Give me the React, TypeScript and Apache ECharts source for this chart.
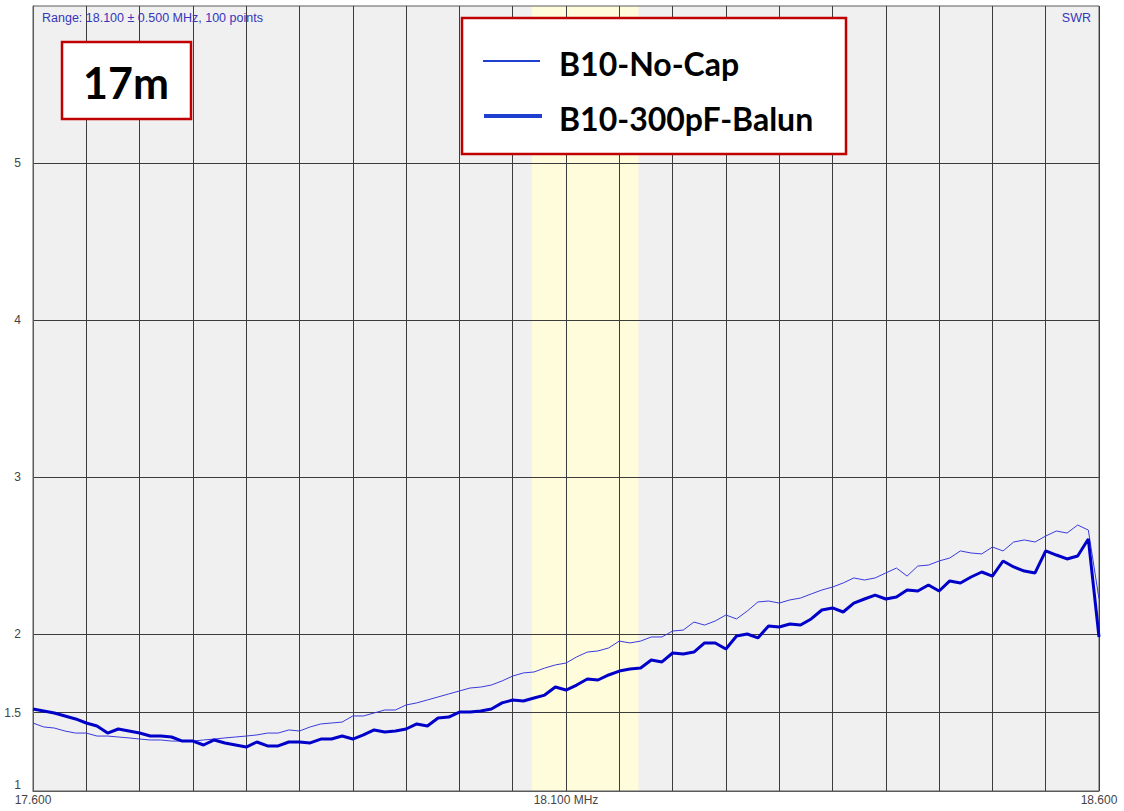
import React, { useEffect, useRef } from 'react';
import * as echarts from 'echarts';

const FREQ_START = 17.6;
const FREQ_STEP = 0.01;

const noCap = [
  1.433, 1.408, 1.401, 1.382, 1.369, 1.369, 1.350, 1.350, 1.344, 1.338,
  1.331, 1.325, 1.325, 1.318, 1.318, 1.318, 1.325, 1.331, 1.338, 1.344,
  1.350, 1.357, 1.369, 1.369, 1.389, 1.382, 1.408, 1.427, 1.433, 1.439,
  1.478, 1.478, 1.497, 1.516, 1.516, 1.548, 1.561, 1.580, 1.599, 1.618,
  1.637, 1.656, 1.662, 1.675, 1.701, 1.732, 1.752, 1.758, 1.783, 1.803,
  1.815, 1.854, 1.885, 1.892, 1.911, 1.955, 1.943, 1.955, 1.981, 1.981,
  2.019, 2.025, 2.076, 2.057, 2.083, 2.121, 2.096, 2.146, 2.204, 2.210,
  2.197, 2.217, 2.229, 2.255, 2.280, 2.299, 2.325, 2.357, 2.344, 2.357,
  2.389, 2.420, 2.369, 2.433, 2.439, 2.465, 2.484, 2.529, 2.516, 2.510,
  2.554, 2.529, 2.586, 2.599, 2.586, 2.624, 2.656, 2.643, 2.694, 2.662,
  2.223,
];

const balun = [
  1.522, 1.510, 1.497, 1.478, 1.459, 1.433, 1.414, 1.369, 1.395, 1.382,
  1.369, 1.350, 1.350, 1.344, 1.318, 1.318, 1.293, 1.325, 1.306, 1.293,
  1.280, 1.312, 1.287, 1.287, 1.312, 1.312, 1.306, 1.331, 1.331, 1.350,
  1.331, 1.357, 1.389, 1.376, 1.382, 1.395, 1.427, 1.414, 1.465, 1.471,
  1.503, 1.503, 1.510, 1.522, 1.561, 1.580, 1.573, 1.592, 1.611, 1.662,
  1.643, 1.675, 1.713, 1.707, 1.739, 1.764, 1.777, 1.783, 1.834, 1.822,
  1.879, 1.873, 1.885, 1.943, 1.943, 1.904, 1.987, 2.000, 1.975, 2.051,
  2.045, 2.064, 2.057, 2.096, 2.153, 2.166, 2.140, 2.197, 2.223, 2.248,
  2.223, 2.236, 2.280, 2.274, 2.312, 2.274, 2.338, 2.325, 2.363, 2.395,
  2.369, 2.465, 2.427, 2.401, 2.389, 2.529, 2.503, 2.478, 2.497, 2.605,
  1.981,
];

const seriesNames = ['B10-No-Cap', 'B10-300pF-Balun'];
const yLabelValues = [1, 1.5, 2, 3, 4, 5];
const yGridValues = [1.5, 2, 3, 4, 5];
const xLabelMap: [number, string][] = [
  [17.6, '17.600'],
  [18.1, '18.100 MHz'],
  [18.6, '18.600'],
];
const bandRange = [18.068, 18.168];
const rangeText = 'Range: 18.100 \u00b1 0.500 MHz, 100 points';
const swrText = 'SWR';
const bandTitle = '17m';

export default function App() {
  const ref = useRef<HTMLDivElement>(null);

  useEffect(() => {
    if (!ref.current) return;
    const chart = echarts.init(ref.current, null, { renderer: 'svg' });
    const freqs = noCap.map((_, i) => +(FREQ_START + i * FREQ_STEP).toFixed(2));
    const labelFont = '"Liberation Sans", Arial, sans-serif';
    const gridColor = '#3c3c3c';
    const legendFont = 'bold 32px Lato, "Open Sans", sans-serif';

    const option: any = {
      animation: false,
      grid: {
        left: 33,
        right: 25,
        top: 6,
        bottom: 20,
        show: true,
        borderColor: '#5a5a5a',
        borderWidth: 1,
        backgroundColor: 'transparent',
      },
      xAxis: {
        type: 'value',
        min: 17.6,
        max: 18.6,
        interval: 0.05,
        z: 1,
        axisLine: { show: true, lineStyle: { color: '#5a5a5a', width: 1 } },
        axisTick: { show: false },
        splitLine: { show: true, lineStyle: { color: gridColor, width: 1 } },
        axisLabel: {
          color: '#444',
          fontFamily: labelFont,
          fontSize: 12,
          margin: 3,
          showMinLabel: true,
          showMaxLabel: true,
          formatter: (v: number) => {
            for (const [val, txt] of xLabelMap) {
              if (Math.abs(v - val) < 1e-6) return txt;
            }
            return '';
          },
        },
      },
      yAxis: {
        type: 'value',
        min: 1,
        max: 6,
        interval: 0.5,
        z: 1,
        axisLine: { show: true, lineStyle: { color: '#5a5a5a', width: 1 } },
        axisTick: { show: false },
        splitLine: { show: false },
        axisLabel: {
          color: '#444',
          fontFamily: labelFont,
          fontSize: 12,
          margin: 12,
          verticalAlignMinLabel: 'bottom',
          formatter: (v: number) => {
            for (const val of yLabelValues) {
              if (Math.abs(v - val) < 1e-6) return String(val);
            }
            return '';
          },
        },
      },
      series: [
        {
          type: 'line',
          data: [],
          z: -2,
          silent: true,
          markArea: {
            silent: true,
            z: -2,
            data: [
              [
                { xAxis: 17.6, yAxis: 1, itemStyle: { color: '#f0f0f0' } },
                { xAxis: 18.6, yAxis: 6 },
              ],
              [
                { xAxis: bandRange[0], yAxis: 1, itemStyle: { color: '#fffcdc' } },
                { xAxis: bandRange[1], yAxis: 6 },
              ],
            ],
          },
        },
        {
          type: 'line',
          data: [],
          z: -1,
          silent: true,
          markLine: {
            silent: true,
            z: -1,
            symbol: ['none', 'none'],
            label: { show: false },
            lineStyle: { color: gridColor, width: 1, type: 'solid' },
            emphasis: { disabled: true },
            data: yGridValues.map((v) => ({ yAxis: v })),
          },
        },
        {
          name: seriesNames[0],
          type: 'line',
          data: freqs.map((f, i) => [f, noCap[i]]),
          symbol: 'none',
          showSymbol: false,
          lineStyle: { color: '#3a3ade', width: 1 },
          itemStyle: { color: '#3a3ade' },
          z: 3,
        },
        {
          name: seriesNames[1],
          type: 'line',
          data: freqs.map((f, i) => [f, balun[i]]),
          symbol: 'none',
          showSymbol: false,
          lineStyle: { color: '#0000c8', width: 3 },
          itemStyle: { color: '#0000c8' },
          z: 4,
        },
      ],
      graphic: [
        {
          type: 'text',
          x: 42,
          y: 18,
          z: 100,
          style: {
            text: rangeText,
            fill: '#3636bb',
            font: '12.5px "Liberation Sans", Arial, sans-serif',
            textVerticalAlign: 'middle',
          },
        },
        {
          type: 'text',
          x: 1091,
          y: 18,
          z: 100,
          style: {
            text: swrText,
            fill: '#3636bb',
            font: '12.5px "Liberation Sans", Arial, sans-serif',
            textAlign: 'right',
            textVerticalAlign: 'middle',
          },
        },
        {
          type: 'rect',
          z: 100,
          shape: { x: 62, y: 42, width: 129, height: 77 },
          style: { fill: '#ffffff', stroke: '#c00000', lineWidth: 2.5 },
        },
        {
          type: 'text',
          x: 126,
          y: 82,
          z: 101,
          style: {
            text: bandTitle,
            fill: '#000',
            font: 'bold 43px Lato, "Open Sans", sans-serif',
            textAlign: 'center',
            textVerticalAlign: 'middle',
          },
        },
        {
          type: 'rect',
          z: 100,
          shape: { x: 462, y: 18, width: 384, height: 136 },
          style: { fill: '#ffffff', stroke: '#c00000', lineWidth: 2.5 },
        },
        {
          type: 'line',
          z: 101,
          shape: { x1: 483, y1: 61, x2: 540, y2: 61 },
          style: { stroke: '#1f3fcf', lineWidth: 2 },
        },
        {
          type: 'line',
          z: 101,
          shape: { x1: 484, y1: 116, x2: 542, y2: 116 },
          style: { stroke: '#1f3fcf', lineWidth: 4 },
        },
        {
          type: 'text',
          x: 559,
          y: 63,
          z: 101,
          style: {
            text: seriesNames[0],
            fill: '#000',
            font: legendFont,
            textVerticalAlign: 'middle',
          },
        },
        {
          type: 'text',
          x: 559,
          y: 118,
          z: 101,
          style: {
            text: seriesNames[1],
            fill: '#000',
            font: legendFont,
            textVerticalAlign: 'middle',
          },
        },
      ],
    };

    chart.setOption(option);
    return () => {
      chart.dispose();
    };
  }, []);

  return (
    <div
      ref={ref}
      style={{ position: 'fixed', left: 0, top: 0, width: 1124, height: 811, background: '#fff' }}
    />
  );
}
